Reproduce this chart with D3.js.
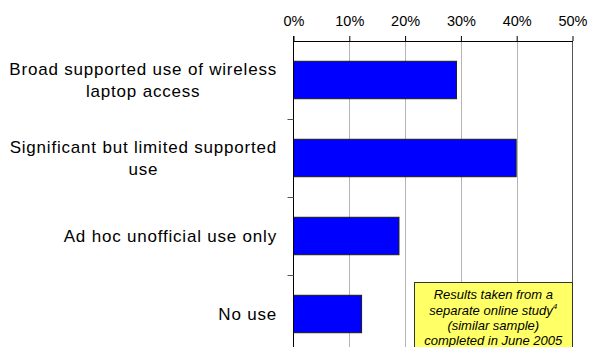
<!DOCTYPE html>
<html>
<head>
<meta charset="utf-8">
<script src="https://cdn.jsdelivr.net/npm/d3@7"></script>
<style>
  html, body { margin: 0; padding: 0; background: #fff; }
  svg { display: block; }
  text { font-family: "Liberation Sans", Arial, sans-serif; fill: #000; }
</style>
</head>
<body>
<svg id="chart" width="596" height="347"></svg>
<script>
const categories = [
  "Broad supported use of wireless|laptop access",
  "Significant but limited supported|use",
  "Ad hoc unofficial use only",
  "No use"
];
const values = [29.2, 39.9, 18.9, 12.2];
const tickValues = [0, 10, 20, 30, 40, 50];
const tickLabels = ["0%", "10%", "20%", "30%", "40%", "50%"];
const noteLines = ["Results taken from a", "separate online study", "(similar sample)", "completed in June 2005"];

(function () {
const svg = d3.select("#chart");
const W = 596, H = 347;
const pLeft = 293.5, pRight = 572.5, pTop = 41, pBottom = 353;

const x = d3.scaleLinear().domain([0, 50]).range([pLeft, pRight]);
const y = d3.scaleBand().domain(categories).range([pTop, pBottom]).padding(0);

// gridlines
svg.append("g").selectAll("line")
  .data(tickValues.filter(v => v > 0 && v < 50))
  .join("line")
  .attr("x1", d => Math.round(x(d)) + 0.5).attr("x2", d => Math.round(x(d)) + 0.5)
  .attr("y1", pTop).attr("y2", pBottom)
  .attr("stroke", "#b4b4b4").attr("stroke-width", 1);

// right border
svg.append("line")
  .attr("x1", pRight).attr("x2", pRight).attr("y1", pTop).attr("y2", pBottom)
  .attr("stroke", "#555").attr("stroke-width", 1);

// bars
const barFrac = 0.48;
svg.append("g").selectAll("rect")
  .data(values)
  .join("rect")
  .attr("x", x(0))
  .attr("y", (d, i) => y(categories[i]) + y.bandwidth() * (1 - barFrac) / 2)
  .attr("width", d => x(d) - x(0))
  .attr("height", y.bandwidth() * barFrac)
  .attr("fill", "#0000ff")
  .attr("stroke", "#1a1a1a")
  .attr("stroke-width", 1);

// top axis
const xAxis = d3.axisTop(x).tickValues(tickValues)
  .tickFormat((d, i) => tickLabels[i]).tickSize(5).tickSizeOuter(0).tickPadding(10);
const gx = svg.append("g").attr("transform", `translate(0,${pTop})`).call(xAxis);
gx.select(".domain").attr("stroke", "#000");
gx.selectAll(".tick line").attr("stroke", "#000");
gx.selectAll(".tick text").attr("font-size", 14.5).attr("font-family", '"Liberation Sans", Arial, sans-serif').attr("fill", "#000");

// left axis (ticks at band boundaries)
svg.append("line")
  .attr("x1", pLeft).attr("x2", pLeft).attr("y1", pTop - 5).attr("y2", pBottom)
  .attr("stroke", "#000");
svg.append("g").selectAll("line")
  .data(categories.slice(1))
  .join("line")
  .attr("x1", pLeft - 6).attr("x2", pLeft)
  .attr("y1", d => Math.round(y(d)) + 0.5).attr("y2", d => Math.round(y(d)) + 0.5)
  .attr("stroke", "#555");

// category labels
const labelRight = 277;
const lineH = 22.5;
const fs = 17;
const ls = 0.8;
const cap = fs * 0.716;
categories.forEach(c => {
  const lines = c.split("|");
  const t = svg.append("text")
    .attr("font-size", fs).attr("letter-spacing", ls)
    .attr("text-anchor", "middle");
  const spans = lines.map(l => t.append("tspan").text(l));
  const widths = spans.map(s => s.node().getComputedTextLength());
  const maxW = d3.max(widths);
  const cx = labelRight - maxW / 2;
  const center = y(c) + y.bandwidth() / 2;
  const blockH = cap + (lines.length - 1) * lineH;
  const firstBase = center - blockH / 2 + cap;
  spans.forEach((s, i) => s.attr("x", cx).attr("y", firstBase + i * lineH));
});

// annotation box
const bx = 414, by = 282.5;
svg.append("rect")
  .attr("x", bx + 0.5).attr("y", by)
  .attr("width", pRight - bx - 0.5).attr("height", H - by + 10)
  .attr("fill", "#ffff66").attr("stroke", "#333").attr("stroke-width", 1);
const ncx = (bx + pRight) / 2;
const nbase = [299, 314.5, 330, 345];
noteLines.forEach((l, i) => {
  const t = svg.append("text")
    .attr("x", ncx).attr("y", nbase[i])
    .attr("text-anchor", "middle")
    .attr("font-size", 13).attr("font-style", "italic")
    .attr("fill", "#222");
  t.append("tspan").text(l);
  if (i === 1) {
    t.append("tspan").text("4").attr("font-size", 8).attr("dy", -6);
  }
});
})();
</script>
</body>
</html>
